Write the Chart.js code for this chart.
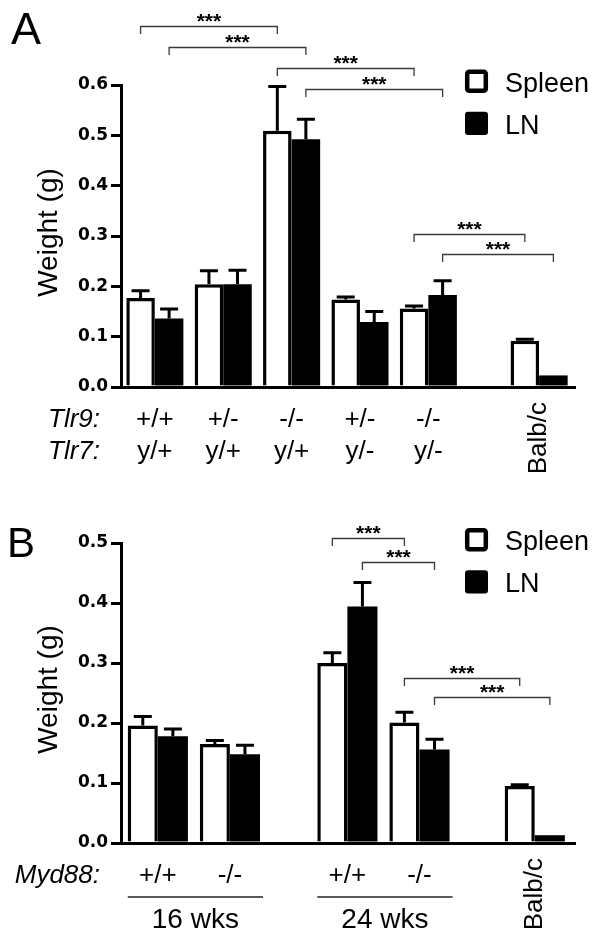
<!DOCTYPE html>
<html>
<head>
<meta charset="utf-8">
<script src="https://cdn.jsdelivr.net/npm/chart.js@4.4.1/dist/chart.umd.min.js"></script>
<style>
  html, body { margin: 0; padding: 0; background: #fff; }
  #wrap { position: relative; width: 604px; height: 946px; overflow: hidden; }
  canvas { display: block; position: absolute; left: 0; }
  #chartA { top: 0; }
  #chartB { top: 470px; }
</style>
</head>
<body>
<div id="wrap">
<canvas id="chartA" width="604" height="484"></canvas>
<canvas id="chartB" width="604" height="476"></canvas>
</div>
<script>
const seriesNames = ['Spleen', 'LN'];
const yTitle = 'Weight (g)';
const controlLabel = 'Balb/c';

// Panel A: Tlr9 / Tlr7 genotypes, last column is the Balb/c control
const tlr9A = ['+/+', '+/-', '-/-', '+/-', '-/-', ''];
const tlr7A = ['y/+', 'y/+', 'y/+', 'y/-', 'y/-', ''];
const slotsA = [1, 2, 3, 4, 5, 6.62];
const spleenA = [0.177, 0.204, 0.509, 0.174, 0.156, 0.092];
const spleenErrA = [0.014, 0.027, 0.088, 0.005, 0.005, 0.003];
const lnA = [0.136, 0.204, 0.492, 0.129, 0.183, 0.023];
const lnErrA = [0.019, 0.028, 0.040, 0.021, 0.028, 0];
const yTicksA = [0, 0.1, 0.2, 0.3, 0.4, 0.5, 0.6];
// [group, series] -> [group, series], bracket height in g
const bracketsA = [
    { from: [0, 0], to: [2, 0], y: 0.717, label: '***' },
    { from: [0, 1], to: [2, 1], y: 0.676, label: '***' },
    { from: [2, 0], to: [4, 0], y: 0.633, label: '***' },
    { from: [2, 1], to: [4, 1], y: 0.593, label: '***' },
    { from: [4, 0], to: [5, 0], y: 0.304, label: '***' },
    { from: [4, 1], to: [5, 1], y: 0.264, label: '***' }
];

// Panel B: Myd88 genotypes at 16 and 24 weeks, plus Balb/c
const myd88B = ['+/+', '-/-', '+/+', '-/-', ''];
const agesB = ['16 wks', '24 wks'];
const ageGroupsB = [[0, 1], [2, 3]];
const slotsB = [1, 2, 3.63, 4.63, 6.23];
const spleenB = [0.196, 0.165, 0.300, 0.201, 0.095];
const spleenErrB = [0.015, 0.006, 0.017, 0.017, 0.002];
const lnB = [0.178, 0.148, 0.394, 0.156, 0.013];
const lnErrB = [0.012, 0.015, 0.040, 0.017, 0];
const yTicksB = [0, 0.1, 0.2, 0.3, 0.4, 0.5];
const bracketsB = [
    { from: [2, 0], to: [3, 0], y: 0.508, label: '***' },
    { from: [2, 1], to: [3, 1], y: 0.469, label: '***' },
    { from: [3, 0], to: [4, 0], y: 0.275, label: '***' },
    { from: [3, 1], to: [4, 1], y: 0.243, label: '***' }
];

const FONT = '"Liberation Sans", Arial, sans-serif';

function decor(o) {
    return {
        id: 'decor',
        afterDatasetsDraw(chart) {
            // Upper error bars only, like the original figure
            const ctx = chart.ctx;
            const ys = chart.scales.y;
            ctx.save();
            ctx.strokeStyle = '#000';
            ctx.lineWidth = 3;
            chart.data.datasets.forEach((ds, si) => {
                chart.getDatasetMeta(si).data.forEach((bar, gi) => {
                    const err = ds.errors[gi];
                    if (!err) return;
                    const top = ys.getPixelForValue(ds.data[gi].y + err);
                    ctx.beginPath();
                    ctx.moveTo(bar.x, bar.y);
                    ctx.lineTo(bar.x, top);
                    ctx.moveTo(bar.x - 9, top);
                    ctx.lineTo(bar.x + 9, top);
                    ctx.stroke();
                });
            });
            ctx.restore();
        },
        afterDraw(chart) {
            const ctx = chart.ctx;
            const xs = chart.scales.x;
            const ys = chart.scales.y;
            const area = chart.chartArea;
            const bar = (g, s) => chart.getDatasetMeta(s).data[g];

            ctx.save();
            ctx.fillStyle = '#000';
            ctx.strokeStyle = '#000';

            // Panel letter
            ctx.font = o.letterSize + 'px ' + FONT;
            ctx.textAlign = 'left';
            ctx.textBaseline = 'alphabetic';
            ctx.fillText(o.letter, o.letterX, o.letterY);

            // Y axis title
            ctx.save();
            ctx.translate(49, (area.top + area.bottom) / 2 - 3.5);
            ctx.rotate(-Math.PI / 2);
            ctx.font = '28px ' + FONT;
            ctx.textAlign = 'center';
            ctx.textBaseline = 'middle';
            ctx.fillText(yTitle, 0, 0);
            ctx.restore();

            // Legend
            chart.data.datasets.forEach((ds, i) => {
                const top = o.legendTop + i * 42.2;
                ctx.beginPath();
                if (ds.borderWidth) {
                    ctx.fillStyle = '#fff';
                    ctx.lineWidth = 4.5;
                    ctx.roundRect(467.2, top + 2.2, 18.6, 19, 2);
                    ctx.fill();
                    ctx.stroke();
                } else {
                    ctx.fillStyle = '#000';
                    ctx.roundRect(465, top, 23, 23.4, 3);
                    ctx.fill();
                }
                ctx.fillStyle = '#000';
                ctx.font = '27px ' + FONT;
                ctx.textAlign = 'left';
                ctx.textBaseline = 'alphabetic';
                ctx.fillText(ds.label, 505, top + 22);
            });

            // Significance brackets
            o.brackets.forEach(b => {
                const x1 = bar(b.from[0], b.from[1]).x;
                const x2 = bar(b.to[0], b.to[1]).x;
                const y = Math.round(ys.getPixelForValue(b.y)) + 0.5;
                ctx.strokeStyle = '#3a3a3a';
                ctx.lineWidth = 1.3;
                ctx.beginPath();
                ctx.moveTo(x1, y + 7.5);
                ctx.lineTo(x1, y);
                ctx.lineTo(x2, y);
                ctx.lineTo(x2, y + 7.5);
                ctx.stroke();
                ctx.font = 'bold 21px ' + FONT;
                ctx.textAlign = 'center';
                ctx.textBaseline = 'alphabetic';
                const m = ctx.measureText(b.label);
                const mid = y - 8.5;
                ctx.fillStyle = '#000';
                ctx.fillText(b.label, (x1 + x2) / 2, mid + (m.actualBoundingBoxAscent - m.actualBoundingBoxDescent) / 2);
            });
            ctx.strokeStyle = '#000';

            // Genotype rows under the axis
            o.rows.forEach(r => {
                ctx.font = 'italic 26px ' + FONT;
                ctx.textAlign = 'right';
                ctx.fillText(r.lead, 100, r.y);
                ctx.font = '26px ' + FONT;
                ctx.textAlign = 'center';
                r.labels.forEach((t, i) => {
                    if (t) ctx.fillText(t, xs.getPixelForValue(o.slots[i]), r.y);
                });
            });

            // Rotated control label
            ctx.save();
            ctx.translate(xs.getPixelForValue(o.slots[o.slots.length - 1]), area.bottom + 15);
            ctx.rotate(-Math.PI / 2);
            ctx.font = '26px ' + FONT;
            ctx.textAlign = 'right';
            ctx.textBaseline = 'middle';
            ctx.fillText(controlLabel, 0, 0);
            ctx.restore();

            // Age spans (panel B)
            if (o.ages) {
                o.ages.forEach((label, k) => {
                    const [g1, g2] = o.ageGroups[k];
                    const left = bar(g1, 0);
                    const right = bar(g2, 1);
                    const x1 = left.x - left.width / 2;
                    const x2 = right.x + right.width / 2 + 3;
                    ctx.lineWidth = 1.3;
                    ctx.strokeStyle = '#222';
                    ctx.beginPath();
                    ctx.moveTo(x1, o.spanY);
                    ctx.lineTo(x2, o.spanY);
                    ctx.stroke();
                    ctx.font = '28px ' + FONT;
                    ctx.textAlign = 'center';
                    ctx.fillText(label, (x1 + x2) / 2, o.ageY);
                });
            }
            ctx.restore();
        }
    };
}

function buildChart(id, o) {
    const datasets = [
        {
            label: seriesNames[0],
            data: o.slots.map((x, i) => ({ x: x, y: o.spleen[i] })),
            errors: o.spleenErr,
            backgroundColor: '#fff',
            borderColor: '#000',
            borderWidth: 3.5
        },
        {
            label: seriesNames[1],
            data: o.slots.map((x, i) => ({ x: x, y: o.ln[i] })),
            errors: o.lnErr,
            backgroundColor: '#000',
            borderColor: '#000',
            borderWidth: 0
        }
    ];

    return new Chart(document.getElementById(id), {
        type: 'bar',
        data: { datasets: datasets },
        options: {
            responsive: false,
            animation: false,
            devicePixelRatio: 1,
            layout: { padding: { top: o.top, right: 29, bottom: 0, left: 0 } },
            datasets: { bar: { categoryPercentage: 0.835, barPercentage: 1, grouped: true } },
            plugins: {
                legend: { display: false },
                tooltip: { enabled: false }
            },
            scales: {
                x: {
                    type: 'linear',
                    min: o.xMin,
                    max: o.xMax,
                    offset: false,
                    z: 1,
                    afterBuildTicks: s => { s.ticks = o.slots.map(v => ({ value: v })); },
                    afterFit: s => { s.height = o.bottomSpace; },
                    ticks: { display: false },
                    grid: { display: false },
                    border: { display: true, color: '#000', width: 3 }
                },
                y: {
                    type: 'linear',
                    min: 0,
                    max: o.yTicks[o.yTicks.length - 1],
                    afterBuildTicks: s => { s.ticks = o.yTicks.map(v => ({ value: v })); },
                    afterFit: s => { s.width = 121; },
                    ticks: {
                        color: '#000',
                        padding: 3,
                        font: { family: 'DejaVu Sans', size: 17, weight: 'bold' },
                        callback: v => v.toFixed(1)
                    },
                    grid: {
                        display: true,
                        drawOnChartArea: false,
                        drawTicks: true,
                        tickLength: 10,
                        lineWidth: 3,
                        color: '#000'
                    },
                    border: { display: true, color: '#000', width: 3 }
                }
            }
        },
        plugins: [decor(o)]
    });
}

buildChart('chartA', {
    letter: 'A', letterSize: 45, letterX: 11, letterY: 43.5,
    top: 85, bottomSpace: 97,
    xMin: 0.505, xMax: 7.145,
    slots: slotsA,
    spleen: spleenA, spleenErr: spleenErrA,
    ln: lnA, lnErr: lnErrA,
    yTicks: yTicksA,
    brackets: bracketsA,
    legendTop: 69.5,
    rows: [
        { lead: 'Tlr9:', labels: tlr9A, y: 427 },
        { lead: 'Tlr7:', labels: tlr7A, y: 459 }
    ]
});

buildChart('chartB', {
    letter: 'B', letterSize: 42, letterX: 7, letterY: 86.7,
    top: 73, bottomSpace: 103,
    xMin: 0.489, xMax: 6.788,
    slots: slotsB,
    spleen: spleenB, spleenErr: spleenErrB,
    ln: lnB, lnErr: lnErrB,
    yTicks: yTicksB,
    brackets: bracketsB,
    legendTop: 58,
    rows: [
        { lead: 'Myd88:', labels: myd88B, y: 413 }
    ],
    ages: agesB,
    ageGroups: ageGroupsB,
    spanY: 427,
    ageY: 458
});
</script>
</body>
</html>
